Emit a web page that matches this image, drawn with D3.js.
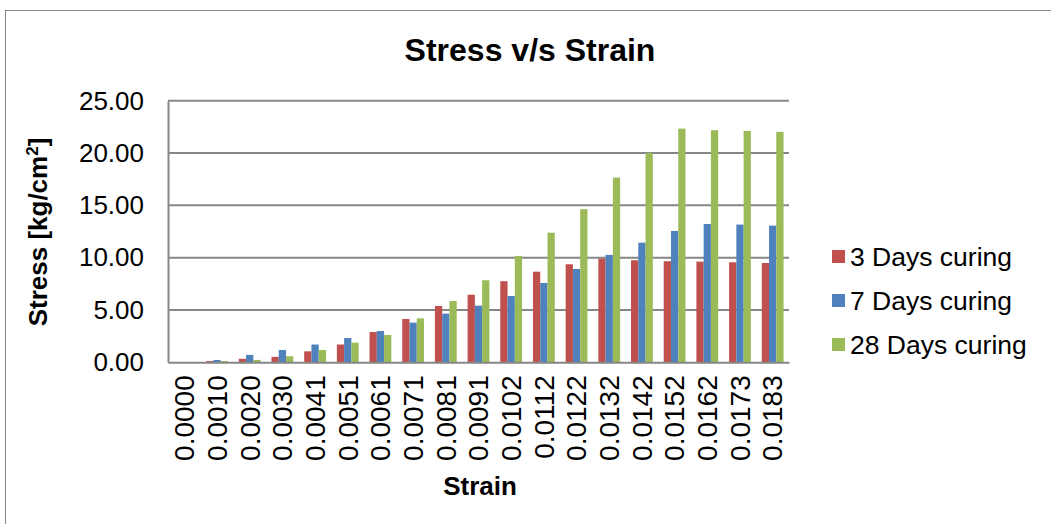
<!DOCTYPE html>
<html>
<head>
<meta charset="utf-8">
<script src="https://cdn.jsdelivr.net/npm/d3@7"></script>
<style>
  html, body { margin: 0; padding: 0; background: #fff; }
  svg { display: block; font-family: "Liberation Sans", Arial, sans-serif; }
</style>
</head>
<body>
<svg id="chart" width="1051" height="524"></svg>
<script>
const categories = ["0.0000","0.0010","0.0020","0.0030","0.0041","0.0051","0.0061","0.0071","0.0081","0.0091","0.0102","0.0112","0.0122","0.0132","0.0142","0.0152","0.0162","0.0173","0.0183"];
const seriesNames = ["3 Days curing", "7 Days curing", "28 Days curing"];
const days3  = [0.00, 0.12, 0.33, 0.52, 1.05, 1.70, 2.90, 4.14, 5.38, 6.46, 7.75, 8.66, 9.37, 9.90, 9.75, 9.66, 9.62, 9.56, 9.49];
const days7  = [0.00, 0.22, 0.71, 1.18, 1.70, 2.32, 2.99, 3.79, 4.65, 5.41, 6.34, 7.58, 8.92, 10.26, 11.43, 12.55, 13.22, 13.16, 13.06];
const days28 = [0.00, 0.12, 0.23, 0.58, 1.18, 1.88, 2.61, 4.20, 5.86, 7.84, 10.16, 12.39, 14.63, 17.65, 20.01, 22.33, 22.18, 22.11, 22.02];
const yTicks = [0, 5, 10, 15, 20, 25];
const colors = ["#C0504D", "#4F81BD", "#9BBB59"];

const svg = d3.select("#chart");
const plot = { left: 168, right: 789, top: 100.7, bottom: 362.3 };

// chart border
svg.append("rect").attr("x", 5.5).attr("y", 10.5).attr("width", 1100).attr("height", 600)
  .attr("fill", "none").attr("stroke", "#868686").attr("stroke-width", 1);

const x = d3.scaleBand().domain(categories).range([plot.left, plot.right])
  .paddingInner(1/3).paddingOuter(1/6);
const xs = d3.scaleBand().domain(seriesNames).range([0, x.bandwidth()]).padding(0);
const y = d3.scaleLinear().domain([0, 25]).range([plot.bottom, plot.top]);

// gridlines
svg.append("g").selectAll("line").data(yTicks.filter(d => d > 0)).join("line")
  .attr("x1", plot.left).attr("x2", plot.right)
  .attr("y1", d => y(d)).attr("y2", d => y(d))
  .attr("stroke", "#868686").attr("stroke-width", 2);

// y axis labels
const yAxis = d3.axisLeft(y).tickValues(yTicks).tickFormat(d3.format(".2f")).tickSize(0).tickPadding(24);
const gy = svg.append("g").attr("transform", `translate(${plot.left},0)`).call(yAxis);
gy.select(".domain").attr("stroke", "#868686").attr("stroke-width", 2);
gy.selectAll("text").attr("font-size", 26).attr("fill", "#000")
  .attr("font-family", "'Liberation Sans', Arial, sans-serif");

// bars
const data = [days3, days7, days28];
const groups = svg.append("g").selectAll("g").data(seriesNames).join("g")
  .attr("fill", (d, i) => colors[i]);
groups.selectAll("rect").data((s, i) => categories.map((c, j) => ({ s, c, v: data[i][j] }))).join("rect")
  .attr("x", d => x(d.c) + xs(d.s))
  .attr("width", xs.bandwidth())
  .attr("y", d => y(d.v))
  .attr("height", d => y(0) - y(d.v));

// x axis
const xAxis = d3.axisBottom(x).tickSize(0).tickPadding(0);
const gx = svg.append("g").attr("transform", `translate(0,${plot.bottom})`).call(xAxis);
gx.select(".domain").attr("stroke", "#868686").attr("stroke-width", 2);
gx.selectAll("text")
  .attr("font-size", 28).attr("fill", "#000")
  .attr("font-family", "'Liberation Sans', Arial, sans-serif")
  .attr("text-anchor", "end")
  .attr("dy", "0.35em")
  .attr("transform", "translate(0,13) rotate(-90)")
  .attr("y", 0).attr("x", 0);

// title
svg.append("text").attr("x", 530).attr("y", 61).attr("text-anchor", "middle")
  .attr("font-size", 32).attr("font-weight", "bold").text("Stress v/s Strain");

// axis titles
svg.append("text").attr("x", 480).attr("y", 495).attr("text-anchor", "middle")
  .attr("font-size", 26).attr("font-weight", "bold").text("Strain");
const yt = svg.append("text").attr("transform", "translate(47,232) rotate(-90)")
  .attr("text-anchor", "middle").attr("font-size", 26).attr("font-weight", "bold");
yt.append("tspan").text("Stress [kg/cm");
yt.append("tspan").attr("baseline-shift", "super").attr("font-size", 17).text("2");
yt.append("tspan").text("]");

// legend
const legend = svg.append("g").selectAll("g").data(seriesNames).join("g")
  .attr("transform", (d, i) => `translate(832,${257 + i * 44})`);
legend.append("rect").attr("x", 0).attr("y", -7).attr("width", 13).attr("height", 13)
  .attr("fill", (d, i) => colors[i]);
legend.append("text").attr("x", 18).attr("y", 0).attr("dy", "0.35em")
  .attr("font-size", 26.5).text(d => d);
</script>
</body>
</html>
